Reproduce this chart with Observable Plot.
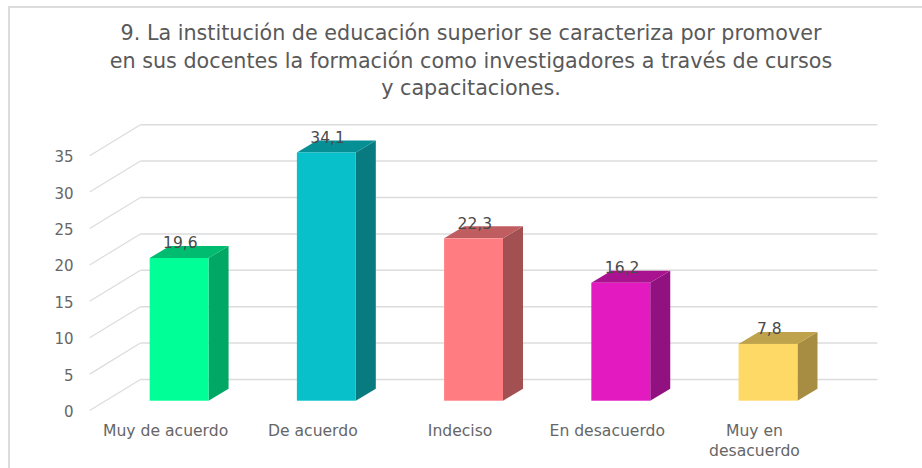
<!DOCTYPE html>
<html>
<head>
<meta charset="utf-8">
<script src="https://cdn.jsdelivr.net/npm/d3@7"></script>
<script src="https://cdn.jsdelivr.net/npm/@observablehq/plot@0.6"></script>
<style>
  html, body { margin: 0; padding: 0; background: #fff; width: 922px; height: 468px; overflow: hidden; }
  #frame { position: absolute; left: 8px; top: 6px; right: 0; bottom: 0; border-left: 2px solid #dcdcdc; border-top: 2px solid #dcdcdc; }
  #title { position: absolute; left: 0; top: 0; width: 942px; height: 110px; box-sizing: border-box; padding-top: 20px; text-align: center;
           font: 20.7px/27.5px "DejaVu Sans", sans-serif; color: #595959; }
  #chart { position: absolute; left: 0; top: 110px; }
  svg { display: block; overflow: visible; }
</style>
</head>
<body>
<div id="frame"></div>
<div id="title">9. La institución de educación superior se caracteriza por promover<br>en sus docentes la formación como investigadores a través de cursos<br>y capacitaciones.</div>
<div id="chart"></div>
<script>
const categories = ["Muy de acuerdo", "De acuerdo", "Indeciso", "En desacuerdo", "Muy en\ndesacuerdo"];
const values = [19.6, 34.1, 22.3, 16.2, 7.8];
const valueLabels = ["19,6", "34,1", "22,3", "16,2", "7,8"];
const frontColors = ["#00ff96", "#08c0c9", "#ff7c80", "#e21abf", "#ffd966"];
const sideColors = ["#00a765", "#077b80", "#a35052", "#911180", "#a68d42"];
const topColors = ["#00bc70", "#069096", "#c05d60", "#aa1390", "#bfa34c"];
const yTicks = [0, 5, 10, 15, 20, 25, 30, 35];

// Oblique projection, in data units
const halfBar = 0.2, depthX = 0.136, depthY = 1.65;
const wallFrontX = -0.611, wallBackX = -0.266, wallRightX = 4.74;
const wallFrontDy = -1.28, wallBackDy = 2.98;

const bars = values.map((v, i) => ({i, v, l: i - halfBar, r: i + halfBar}));
const sidePts = bars.flatMap(b => [
  {i: b.i, x: b.r, y1: 0, y2: b.v},
  {i: b.i, x: b.r + depthX, y1: depthY, y2: b.v + depthY}
]);
const topPts = bars.flatMap(b => [
  {i: b.i, y: b.v, x1: b.l, x2: b.r},
  {i: b.i, y: b.v + depthY, x1: b.l + depthX, x2: b.r + depthX}
]);

const plot = Plot.plot({
  width: 922,
  height: 358,
  marginLeft: 79, marginRight: 0, marginTop: 0, marginBottom: 50,
  style: {background: "transparent", fontFamily: "'DejaVu Sans', sans-serif", overflow: "visible"},
  x: {type: "linear", domain: [-0.680, 5.046], axis: null},
  y: {type: "linear", domain: [-2.376, 39.93], axis: null},
  marks: [
    Plot.link(yTicks, {x1: wallFrontX, y1: d => d + wallFrontDy, x2: wallBackX, y2: d => d + wallBackDy, stroke: "#dcdcdc", strokeWidth: 1.2}),
    Plot.link(yTicks, {x1: wallBackX, y1: d => d + wallBackDy, x2: wallRightX, y2: d => d + wallBackDy, stroke: "#dcdcdc", strokeWidth: 1.5}),
    Plot.areaY(sidePts, {x: "x", y1: "y1", y2: "y2", z: "i", fill: d => sideColors[d.i]}),
    Plot.areaX(topPts, {y: "y", x1: "x1", x2: "x2", z: "i", fill: d => topColors[d.i]}),
    Plot.rect(bars, {x1: "l", x2: "r", y1: 0, y2: "v", fill: (d) => frontColors[d.i]}),
    Plot.text(bars, {x: d => d.i + 0.005, y: d => d.v + 2.1, text: d => valueLabels[d.i], fill: "#4a4a4a", fontSize: 15.5}),
    Plot.axisY(yTicks, {anchor: "left", tickSize: 0, tickPadding: 6, dy: 11, fontSize: 15, fill: "#666", label: null}),
    Plot.axisX(d3.range(categories.length), {anchor: "bottom", tickSize: 0, tickPadding: 3, dx: -14, fontSize: 15.6, lineHeight: 1.28, fill: "#666", label: null, tickFormat: i => categories[i]})
  ]
});
document.getElementById("chart").appendChild(plot);
</script>
</body>
</html>
